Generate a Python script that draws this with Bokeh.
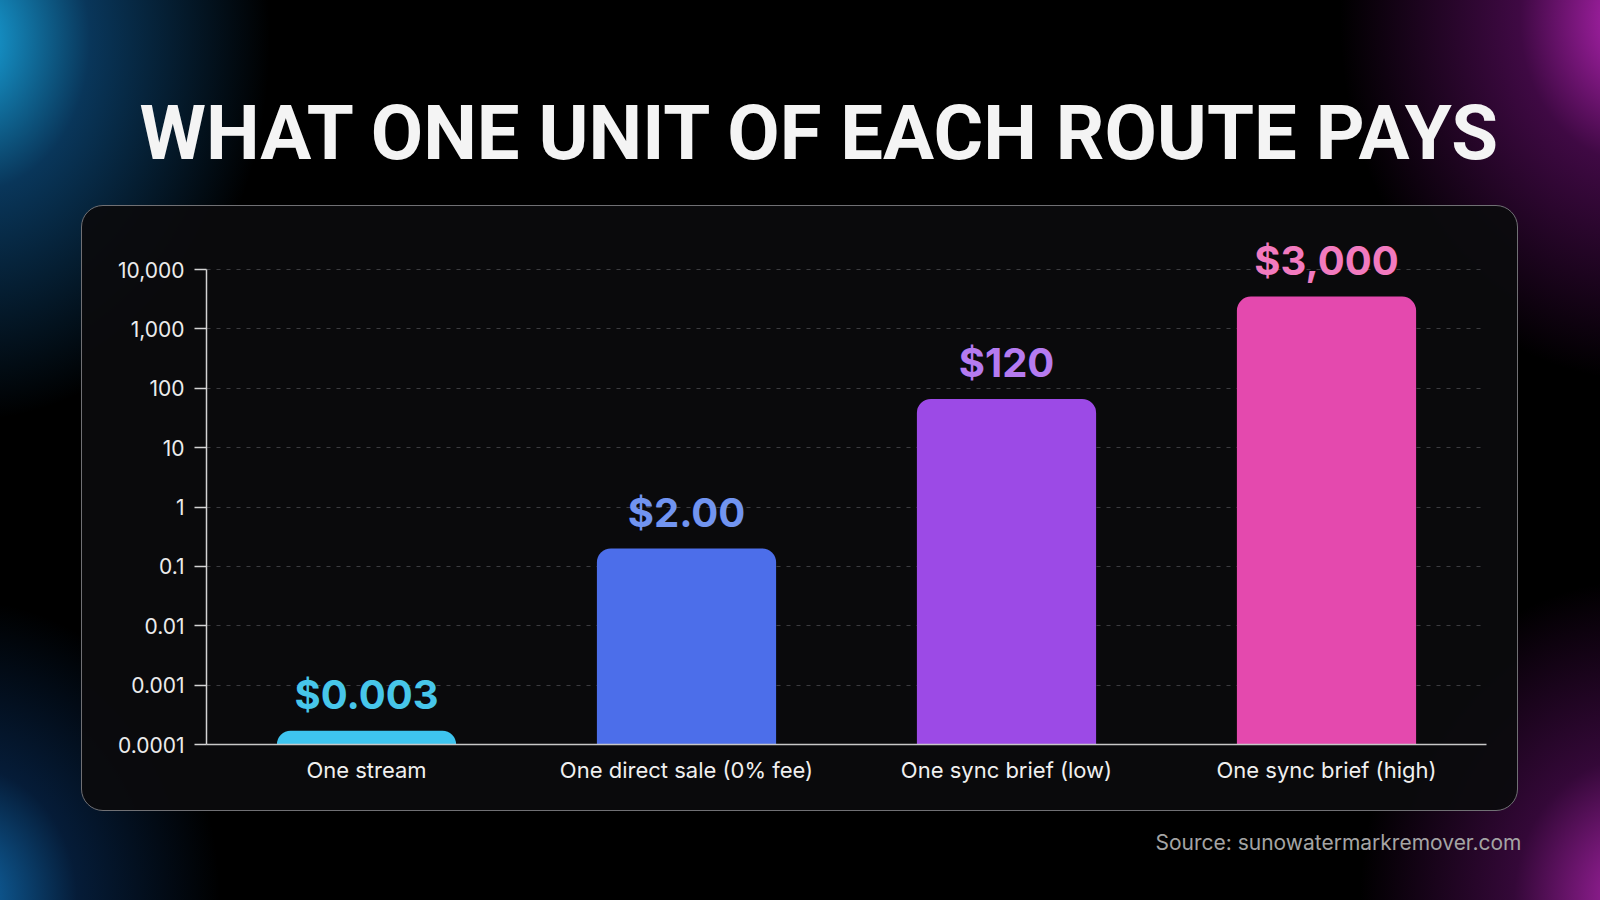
from bokeh.plotting import figure
from bokeh.models import Range1d, FactorRange, FixedTicker, Title, ColumnDataSource
from bokeh.core.properties import value
from bokeh.embed import file_html
from bokeh.resources import INLINE

# ---- data ----
categories = ["One stream", "One direct sale (0% fee)", "One sync brief (low)", "One sync brief (high)"]
bar_heights = [0.00017, 0.2, 66, 3500]          # bar tops as drawn in the reference
value_labels = ["$0.003", "$2.00", "$120", "$3,000"]
bar_colors = ["#3ec4ef", "#4c6eea", "#9c4ae6", "#e449ae"]
label_colors = ["#47c6ea", "#7194f0", "#b57bf0", "#f27abf"]
y_ticks = [0.0001, 0.001, 0.01, 0.1, 1, 10, 100, 1000, 10000]
y_tick_labels = ["0.0001", "0.001", "0.01", "0.1", "1", "10", "100", "1,000", "10,000"]
title_text = "WHAT ONE UNIT OF EACH ROUTE PAYS"
source_text = "Source: sunowatermarkremover.com"

# ---- layout ----
W, H = 1600, 900
FL, FR, FT, FB = 206, 1486, 230, 744
DEC = 59.375
Y_MIN = 1e-4
Y_MAX = 10 ** (4 + (269 - FT) / DEC)

p = figure(width=W, height=H,
           x_range=FactorRange(factors=categories),
           y_range=Range1d(Y_MIN, Y_MAX), y_axis_type="log",
           output_backend="svg", toolbar_location=None,
           min_border_left=FL, min_border_right=W - FR,
           min_border_top=FT, min_border_bottom=H - FB,
           background_fill_color=None, border_fill_color=None,
           outline_line_color=None)

# title
p.title.text = title_text
p.title.align = "left"
p.title.offset = -67
p.title.standoff = 105
p.title.text_font = "Roboto"
p.title.text_font_style = "bold"
p.title.text_font_size = "76px"
p.title.text_color = "#f4f4f4"

# grid
p.xgrid.visible = False
p.ygrid.ticker = FixedTicker(ticks=y_ticks)
p.ygrid.grid_line_color = "#3c3c40"
p.ygrid.grid_line_dash = "4 6"
p.ygrid.grid_line_width = 1

# y axis
p.yaxis.ticker = FixedTicker(ticks=y_ticks)
p.yaxis.major_label_overrides = dict(zip(y_ticks, y_tick_labels))
p.yaxis.bounds = (1e-4, 1e4)
p.yaxis.axis_line_color = "#d4d4d4"
p.yaxis.axis_line_width = 1.5
p.yaxis.major_tick_line_color = "#d4d4d4"
p.yaxis.major_tick_line_width = 1.5
p.yaxis.major_tick_out = 12
p.yaxis.major_tick_in = 0
p.yaxis.minor_tick_out = 0
p.yaxis.minor_tick_in = 0
p.yaxis.major_label_standoff = 10
p.yaxis.major_label_text_font = "Inter"
p.yaxis.major_label_text_font_size = "21px"
p.yaxis.major_label_text_color = "#ececec"

# x axis
p.xaxis.axis_line_color = "#c8c8c8"
p.xaxis.axis_line_width = 1.5
p.xaxis.major_tick_out = 0
p.xaxis.major_tick_in = 0
p.xaxis.major_label_standoff = 12
p.xaxis.major_label_text_font = "Inter"
p.xaxis.major_label_text_font_size = "22px"
p.xaxis.major_label_text_color = "#f0f0f0"

src = ColumnDataSource(dict(cat=categories, top=bar_heights, label=value_labels,
                            color=bar_colors, lcolor=label_colors))

p.vbar(x="cat", top="top", bottom=Y_MIN, width=0.56, fill_color="color",
       line_color=None, border_radius=(14, 14, 0, 0), source=src)

p.text(x="cat", y="top", text="label", text_color="lcolor", text_align="center",
       text_baseline="bottom", y_offset=-12, text_font=value("Inter"),
       text_font_style="bold", text_font_size="40px", source=src)

source = Title(text=source_text, align="right", offset=-35, standoff=84,
               text_font="Inter", text_font_style="normal",
               text_font_size="21px", text_color="#a4a4a4")
p.add_layout(source, "below")

html = file_html(p, INLINE, title="What one unit of each route pays")
css = ("<style>"
       "html{margin:0;padding:0;width:1600px;height:900px;overflow:hidden;background:"
       "radial-gradient(ellipse 300px 380px at -30px 40px, rgba(25,175,235,0.95) 0%, rgba(20,120,200,0.45) 40%, rgba(0,0,0,0) 100%),"
       "radial-gradient(ellipse 260px 300px at -40px 900px, rgba(20,130,210,0.85) 0%, rgba(15,80,160,0.35) 45%, rgba(0,0,0,0) 100%),"
       "radial-gradient(ellipse 300px 360px at 1640px 20px, rgba(200,40,200,0.95) 0%, rgba(140,20,150,0.45) 40%, rgba(0,0,0,0) 100%),"
       "radial-gradient(ellipse 280px 320px at 1640px 900px, rgba(190,40,190,0.9) 0%, rgba(130,20,140,0.4) 45%, rgba(0,0,0,0) 100%),"
       "#000;}"
       "body{margin:0;padding:0;overflow:hidden;background:transparent;}"
       "body::before{content:'';position:absolute;box-sizing:border-box;left:81px;top:205px;"
       "width:1437px;height:606px;border:1.6px solid #707074;border-radius:22px;"
       "background:rgba(11,11,13,0.93);z-index:-1;}"
       "</style>")
html = html.replace("</head>", css + "</head>", 1)
open("out.html", "w").write(html)
